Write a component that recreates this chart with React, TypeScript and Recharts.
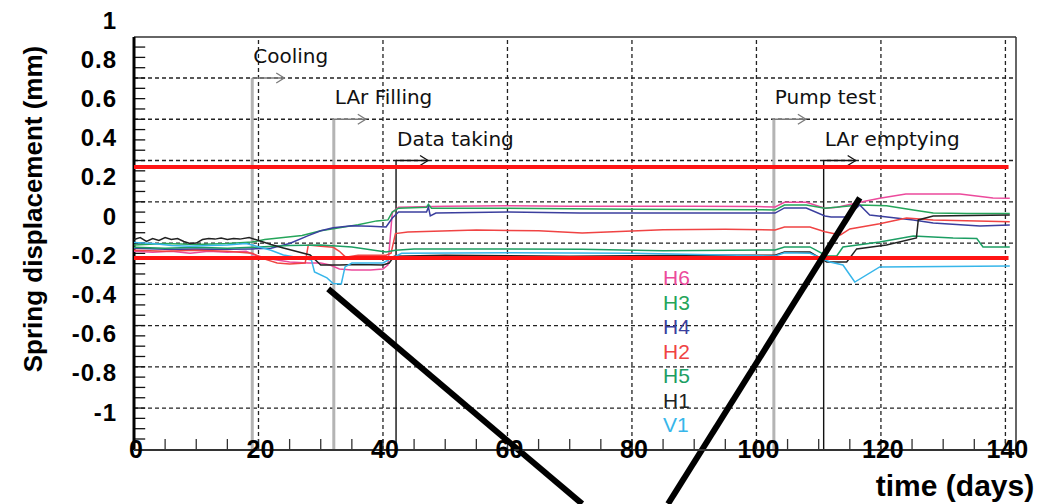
import React from 'react';
import { LineChart, Line, XAxis, YAxis, ReferenceLine, Legend, Label } from 'recharts';

const FONT = '"Liberation Sans", Arial, Helvetica, sans-serif';
const NOTE_FONT = '"DejaVu Sans", "Liberation Sans", sans-serif';

// axis ranges (y in the units of the printed labels)
const Y_TOP = 1;
const Y_BOTTOM = -1.194;
const FRAME_TOP = 0.913;
const X_MAX = 141.7;

const X_TICKS = [0, 20, 40, 60, 80, 100, 120, 140];
const Y_TICKS = [1, 0.8, 0.6, 0.4, 0.2, 0, -0.2, -0.4, -0.6, -0.8, -1];
const X_GRID = [20, 40, 60, 80, 100, 120, 140];
const Y_GRID = [0.704, 0.4935, 0.283, 0.0725, -0.138, -0.3485, -0.559, -0.7695, -0.98];
const LIMITS = [0.25, -0.214];

const EVENT_NAMES = ['Cooling', 'LAr Filling', 'Data taking', 'Pump test', 'LAr emptying'];
const EVENT_DAYS = [19.0, 32.1, 42.1, 102.8, 110.8];
const EVENT_LEVELS = [0.704, 0.4935, 0.283, 0.4935, 0.283];
const GRAY_EVENTS = ['Cooling', 'LAr Filling', 'Pump test'];

const CALLOUT_A = [[31.2, -0.372], [72.0, -1.469]];
const CALLOUT_B = [[116.6, 0.092], [85.8, -1.469]];

// series: [day, displacement]
const H6 = [
  [0, -0.18], [3, -0.185], [6, -0.18], [9, -0.19], [12, -0.18], [15, -0.185], [18, -0.18],
  [19.5, -0.2], [22, -0.22], [25, -0.235], [28, -0.24], [30, -0.24], [31.5, -0.25], [33, -0.27],
  [35, -0.275], [38, -0.275], [40, -0.27], [40.8, -0.25], [41.5, 0.02], [42.5, 0.045], [50, 0.05],
  [60, 0.052], [70, 0.05], [80, 0.05], [90, 0.05], [100, 0.048], [103, 0.046], [104.5, 0.07],
  [108, 0.07], [111, 0.04], [113, 0.045], [116.6, 0.07], [119.8, 0.09], [124, 0.112],
  [132.7, 0.112], [138, 0.092], [140.7, 0.09],
];
const H3 = [
  [0, -0.148], [5, -0.14], [10, -0.145], [15, -0.14], [19, -0.133], [21, -0.12], [24, -0.11],
  [27, -0.1], [30, -0.075], [33, -0.06], [36, -0.045], [39, -0.025], [40.8, -0.02], [41.5, 0.02],
  [42.5, 0.04], [47, 0.045], [47.3, 0.06], [47.8, 0.04], [60, 0.04], [80, 0.035], [100, 0.032],
  [103, 0.031], [104.5, 0.056], [108, 0.056], [111, 0.04], [116.6, 0.056], [120.9, 0.052],
  [125.2, 0.031], [128.4, 0.015], [133.8, 0.013], [140.7, 0.013],
];
const H4 = [
  [0, -0.165], [5, -0.17], [10, -0.168], [15, -0.17], [19, -0.168], [22, -0.165], [25, -0.14],
  [28, -0.1], [30, -0.075], [32, -0.06], [35, -0.05], [38, -0.052], [40.5, -0.056], [41.5, -0.01],
  [42.5, 0.02], [47, 0.02], [47.3, 0.045], [47.6, 0.0], [48.5, 0.015], [60, 0.02], [71.6, 0.015],
  [90, 0.015], [103, 0.015], [104.5, 0.041], [108, 0.041], [111, 0.0], [112, -0.005],
  [114.5, -0.005], [116.6, 0.056], [118.2, 0.005], [125.2, -0.02], [128.4, -0.036],
  [135.9, -0.051], [140.7, -0.046],
];
const H2 = [
  [0, -0.175], [5, -0.18], [10, -0.175], [15, -0.18], [19, -0.19], [21, -0.22], [23, -0.24],
  [25, -0.245], [27.5, -0.24], [28, -0.148], [30, -0.155], [32, -0.16], [33, -0.18], [34, -0.21],
  [36, -0.2], [40.5, -0.2], [41.3, -0.19], [42, -0.09], [44, -0.082], [55, -0.072], [65, -0.075],
  [72, -0.087], [85, -0.07], [95, -0.068], [103, -0.071], [104.5, -0.056], [108.6, -0.056],
  [111, -0.08], [113.5, -0.097], [115, -0.066], [119.8, -0.04], [124.1, -0.01], [128.4, -0.02],
  [140.7, -0.03],
];
const H5 = [
  [0, -0.16], [5, -0.165], [10, -0.16], [15, -0.165], [19, -0.16], [25, -0.15], [30, -0.148],
  [35, -0.158], [40.5, -0.184], [42, -0.175], [45, -0.168], [60, -0.168], [72, -0.17],
  [85, -0.177], [103, -0.173], [104.5, -0.158], [108.6, -0.158], [111.3, -0.204], [112.9, -0.204],
  [113.9, -0.158], [119.8, -0.133], [125.2, -0.102], [131.6, -0.112], [135.4, -0.115],
  [136.4, -0.158], [140.7, -0.158],
];
const H1 = [
  [0, -0.12], [1, -0.11], [2, -0.13], [3, -0.115], [4, -0.125], [5, -0.11], [6, -0.12],
  [7, -0.115], [8, -0.13], [9, -0.14], [10, -0.138], [11, -0.12], [12, -0.115], [13, -0.118],
  [14, -0.112], [15, -0.12], [16, -0.115], [17, -0.118], [18.5, -0.11], [20, -0.125], [22, -0.145],
  [24, -0.163], [26, -0.18], [28.3, -0.199], [30, -0.25], [33, -0.25], [36, -0.248], [40, -0.25],
  [41, -0.24], [41.8, -0.205], [50, -0.2], [70, -0.205], [90, -0.2], [103, -0.2], [104.5, -0.184],
  [108.6, -0.184], [111.3, -0.235], [114.5, -0.235], [116.1, -0.168], [120.9, -0.148],
  [125.7, -0.112], [126, -0.02], [128.4, 0.0], [140.7, 0.005],
];
const V1 = [
  [0, -0.135], [3, -0.14], [6, -0.15], [9, -0.155], [12, -0.15], [15, -0.148], [18, -0.14],
  [19, -0.148], [22, -0.175], [24, -0.199], [27, -0.215], [28.5, -0.224], [29, -0.286],
  [31, -0.316], [32, -0.345], [33.3, -0.347], [33.9, -0.26], [35, -0.24], [40, -0.24],
  [41.5, -0.214], [43, -0.19], [60, -0.188], [80, -0.19], [103, -0.204], [104.5, -0.188],
  [108.6, -0.19], [111.8, -0.235], [113.9, -0.25], [115.8, -0.337], [119.8, -0.26], [140.7, -0.255],
];

const SERIES = [
  { name: 'H6', color: '#ec4a9c', points: H6 },
  { name: 'H3', color: '#25a55a', points: H3 },
  { name: 'H4', color: '#3b3f9e', points: H4 },
  { name: 'H2', color: '#f04343', points: H2 },
  { name: 'H5', color: '#1c9e63', points: H5 },
  { name: 'H1', color: '#222222', points: H1 },
  { name: 'V1', color: '#37b6ea', points: V1 },
];
const LEGEND_ORDER = SERIES.map((s) => s.name);

// minor ticks along the frame
const yStep = (Y_GRID[0] - Y_GRID[Y_GRID.length - 1]) / (Y_GRID.length - 1) / 4;
const Y_MINOR: number[] = [];
for (let v = Y_GRID[0] + 3 * yStep; v > Y_BOTTOM + 0.02; v -= yStep) Y_MINOR.push(v);
const X_MINOR: number[] = [];
for (let d = 5; d <= 140; d += 5) X_MINOR.push(d);

const YTick = ({ x, y, payload }: any) => (
  <text x={x} y={y} dy="0.36em" textAnchor="end" fontFamily={FONT} fontSize={24}
    fontWeight={700} letterSpacing={1} fill="#000">
    {payload.value}
  </text>
);

const XTick = ({ x, y, payload }: any) => (
  <text x={x + 2} y={y} dy={8} textAnchor="middle" fontFamily={FONT} fontSize={25}
    fontWeight={700} fill="#000">
    {payload.value}
  </text>
);

const EventMark = ({ viewBox, name }: any) => {
  if (!viewBox) return null;
  const x = viewBox.x;
  const y = viewBox.y;
  const gray = GRAY_EVENTS.includes(name);
  const c = gray ? '#7a7a7a' : '#111';
  return (
    <g>
      <line x1={x} y1={y} x2={x + 32} y2={y} stroke={c} strokeWidth={1.3} />
      <polyline points={`${x + 24},${y - 5} ${x + 32},${y} ${x + 24},${y + 5}`} fill="none"
        stroke={c} strokeWidth={1.3} />
      <text x={x + 1} y={y - 15} fontFamily={NOTE_FONT} fontSize={20} fill="#111">{name}</text>
    </g>
  );
};

const LegendBox = ({ payload }: any) => {
  const items = [...(payload || [])].sort(
    (a: any, b: any) => LEGEND_ORDER.indexOf(a.value) - LEGEND_ORDER.indexOf(b.value)
  );
  return (
    <div style={{ fontFamily: FONT, fontSize: 21, lineHeight: '24.5px' }}>
      {items.map((e: any) => (
        <div key={e.value} style={{ color: e.color }}>{e.value}</div>
      ))}
    </div>
  );
};

const gridStyle = { stroke: '#222', strokeWidth: 1.3, strokeDasharray: '4 3' };

const App: React.FC = () => {
  return (
    <div style={{ position: 'absolute', left: 0, top: 0, width: 1057, height: 504 }}>
      <LineChart width={1057} height={504} margin={{ top: 20, right: 41, bottom: 24, left: 34 }}>
        <XAxis
          type="number"
          dataKey="d"
          domain={[0, X_MAX]}
          ticks={X_TICKS}
          interval={0}
          allowDataOverflow
          height={30}
          tickSize={0}
          tickMargin={0}
          tickLine={false}
          axisLine={{ stroke: '#333', strokeWidth: 2 }}
          tick={(p: any) => <XTick {...p} />}
        >
          <Label
            content={(p: any) => {
              const vb = p.viewBox || { x: 134, y: 450, width: 882 };
              return (
                <text x={vb.x + vb.width - 61} y={vb.y + 46} textAnchor="middle" fontFamily={FONT}
                  fontSize={30} fontWeight={700} fill="#000">
                  time (days)
                </text>
              );
            }}
          />
        </XAxis>
        <YAxis
          type="number"
          domain={[Y_BOTTOM, Y_TOP]}
          ticks={Y_TICKS}
          interval={0}
          allowDataOverflow
          width={100}
          tickSize={0}
          tickMargin={17}
          tickLine={false}
          axisLine={false}
          tick={(p: any) => <YTick {...p} />}
        >
          <Label
            content={(p: any) => {
              const vb = p.viewBox || { x: 34, y: 20 };
              const tx = vb.x + 8;
              const ty = vb.y + 189;
              return (
                <text x={tx} y={ty} transform={`rotate(-90, ${tx}, ${ty})`} textAnchor="middle"
                  fontFamily={FONT} fontSize={26} fontWeight={700} fill="#000">
                  Spring displacement (mm)
                </text>
              );
            }}
          />
        </YAxis>

        {Y_GRID.map((v) => (
          <ReferenceLine key={`gy${v}`} segment={[{ x: 0, y: v }, { x: X_MAX, y: v }]} {...gridStyle} />
        ))}
        {X_GRID.map((d) => (
          <ReferenceLine key={`gx${d}`} segment={[{ x: d, y: Y_BOTTOM }, { x: d, y: FRAME_TOP }]} {...gridStyle} />
        ))}
        {Y_MINOR.map((v) => (
          <ReferenceLine key={`my${v}`} segment={[{ x: 0, y: v }, { x: 1.8, y: v }]} stroke="#111" strokeWidth={1.3} />
        ))}
        {X_MINOR.map((d) => (
          <ReferenceLine key={`mx${d}`} segment={[{ x: d, y: Y_BOTTOM }, { x: d, y: Y_BOTTOM + 0.056 }]} stroke="#333" strokeWidth={1.3} />
        ))}

        {/* frame */}
        <ReferenceLine segment={[{ x: 0, y: FRAME_TOP }, { x: X_MAX, y: FRAME_TOP }]} stroke="#333" strokeWidth={1.5} />
        <ReferenceLine segment={[{ x: X_MAX, y: Y_BOTTOM }, { x: X_MAX, y: FRAME_TOP }]} stroke="#333" strokeWidth={1.5} />
        <ReferenceLine segment={[{ x: 0, y: Y_BOTTOM }, { x: 0, y: FRAME_TOP }]} stroke="#000" strokeWidth={3} />

        {EVENT_NAMES.map((name, i) => {
          const gray = GRAY_EVENTS.includes(name);
          return (
            <ReferenceLine
              key={name}
              segment={[{ x: EVENT_DAYS[i], y: Y_BOTTOM }, { x: EVENT_DAYS[i], y: EVENT_LEVELS[i] }]}
              stroke={gray ? '#b4b4b4' : '#111'}
              strokeWidth={gray ? 3 : 1.4}
              label={(p: any) => <EventMark {...p} name={name} />}
            />
          );
        })}

        {SERIES.map((s) => (
          <Line
            key={s.name}
            name={s.name}
            data={s.points.map(([d, v]) => ({ d, v }))}
            dataKey="v"
            type="linear"
            stroke={s.color}
            strokeWidth={1.5}
            dot={false}
            isAnimationActive={false}
          />
        ))}

        {LIMITS.map((v) => (
          <ReferenceLine key={`lim${v}`} segment={[{ x: 0, y: v }, { x: 140.5, y: v }]} stroke="#ff1414" strokeWidth={4} />
        ))}

        <ReferenceLine segment={CALLOUT_A.map(([x, y]) => ({ x, y }))} ifOverflow="visible" stroke="#000" strokeWidth={6} />
        <ReferenceLine segment={CALLOUT_B.map(([x, y]) => ({ x, y }))} ifOverflow="visible" stroke="#000" strokeWidth={6} />

        <Legend
          layout="vertical"
          align="center"
          verticalAlign="middle"
          content={(p: any) => <LegendBox {...p} />}
          wrapperStyle={{ left: 663, top: 266, width: 50 }}
        />
      </LineChart>
    </div>
  );
};

export default App;
